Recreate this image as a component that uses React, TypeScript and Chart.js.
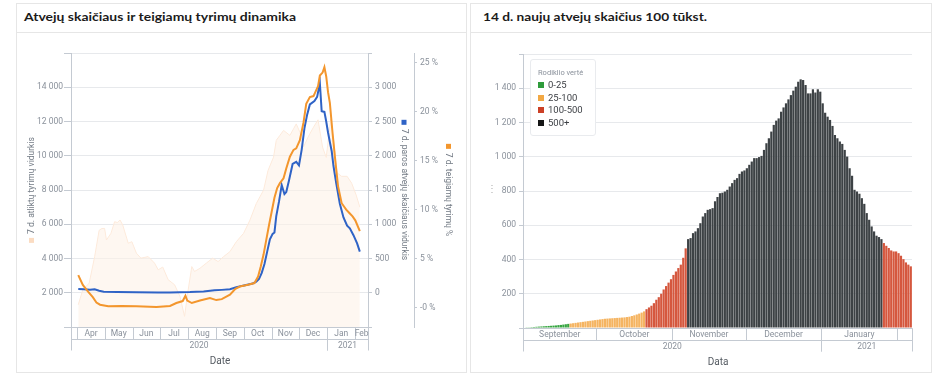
import React, { useEffect, useRef } from 'react';
import { Chart, registerables } from 'chart.js';

Chart.register(...registerables);

const FONT = 'Roboto, "Noto Sans", sans-serif';
const TICK = '#8a919b';
const TITLE_C = '#737b85';
const GRID = '#e7e9ec';
const AXIS = '#c4cad2';
const BLUE = '#2f63c6';
const ORANGE = '#f3962d';
const PEACH_LINE = '#fdeadb';
const PEACH_FILL = 'rgba(254,242,231,0.6)';

// ---------------- Left chart data ----------------
const leftTitle = 'Atvejų skaičiaus ir teigiamų tyrimų dinamika';
const leftRange = ['2020-03-25', '2021-02-15'];

const testDates = ['2020-04-02','2020-04-07','2020-04-14','2020-04-20','2020-04-25','2020-04-28','2020-05-01','2020-05-03','2020-05-08','2020-05-12','2020-05-15','2020-05-18','2020-05-21','2020-05-27','2020-05-31','2020-06-05','2020-06-10','2020-06-18','2020-06-25','2020-06-29','2020-07-04','2020-07-10','2020-07-17','2020-07-23','2020-07-28','2020-08-01','2020-08-05','2020-08-08','2020-08-14','2020-08-21','2020-08-28','2020-09-03','2020-09-09','2020-09-16','2020-09-23','2020-10-01','2020-10-08','2020-10-15','2020-10-23','2020-10-28','2020-11-03','2020-11-06','2020-11-10','2020-11-14','2020-11-21','2020-11-25','2020-11-28','2020-12-02','2020-12-06','2020-12-11','2020-12-17','2020-12-22','2020-12-27','2020-12-31','2021-01-05','2021-01-08','2021-01-12','2021-01-17','2021-01-23','2021-01-28','2021-02-02','2021-02-06'];
const testValues = [1300,2170,2560,4100,5650,5750,5760,5080,5470,6150,6100,6250,5950,4890,4980,4310,4020,4110,3730,3340,3500,2760,2470,1790,620,2170,3530,3240,3430,3730,4020,3820,4110,4400,4980,5470,6240,7210,7990,9150,9920,10900,11190,11480,11190,11570,11860,11380,10510,11090,11670,12100,10500,9900,12150,11000,9000,8800,8800,8400,7700,7000];

const caseDates = ['2020-04-02','2020-04-08','2020-04-15','2020-04-20','2020-04-25','2020-04-30','2020-05-15','2020-06-05','2020-06-29','2020-07-12','2020-08-03','2020-08-18','2020-08-30','2020-09-07','2020-09-16','2020-09-23','2020-09-29','2020-10-05','2020-10-11','2020-10-15','2020-10-18','2020-10-21','2020-10-24','2020-10-27','2020-10-30','2020-11-02','2020-11-04','2020-11-06','2020-11-09','2020-11-12','2020-11-15','2020-11-17','2020-11-20','2020-11-24','2020-11-28','2020-12-01','2020-12-04','2020-12-07','2020-12-10','2020-12-13','2020-12-18','2020-12-21','2020-12-24','2020-12-26','2020-12-29','2020-12-31','2021-01-02','2021-01-04','2021-01-06','2021-01-08','2021-01-11','2021-01-15','2021-01-19','2021-01-23','2021-01-26','2021-01-30','2021-02-03','2021-02-06'];
const caseValues = [55,50,45,52,30,15,10,8,4,5,10,18,35,42,50,80,100,118,135,160,200,290,420,600,780,860,880,1120,1330,1570,1440,1470,1640,1880,1910,1860,2090,2400,2600,2750,2800,2860,3060,2650,2640,2500,2340,2200,2070,1850,1600,1300,1100,980,940,840,720,600];

const posDates = ['2020-04-02','2020-04-07','2020-04-13','2020-04-18','2020-04-22','2020-04-26','2020-05-05','2020-05-20','2020-06-05','2020-06-27','2020-07-12','2020-07-19','2020-07-26','2020-07-29','2020-07-31','2020-08-05','2020-08-14','2020-08-25','2020-09-01','2020-09-07','2020-09-16','2020-09-22','2020-09-27','2020-10-06','2020-10-13','2020-10-17','2020-10-20','2020-10-23','2020-10-26','2020-10-29','2020-11-01','2020-11-04','2020-11-07','2020-11-10','2020-11-14','2020-11-17','2020-11-21','2020-11-25','2020-11-28','2020-12-02','2020-12-06','2020-12-09','2020-12-13','2020-12-17','2020-12-20','2020-12-22','2020-12-24','2020-12-27','2020-12-29','2020-12-31','2021-01-02','2021-01-04','2021-01-07','2021-01-10','2021-01-13','2021-01-17','2021-01-22','2021-01-26','2021-01-29','2021-02-01','2021-02-06'];
const posValues = [3.3,2.3,1.6,1.05,0.5,0.28,0.12,0.15,0.12,0.05,0.15,0.45,0.65,1.2,0.7,0.45,0.7,0.96,0.75,0.85,1.3,1.9,2.14,2.32,2.49,3.16,4.2,5.4,6.9,8.4,9.8,11.2,12.2,12.7,13.2,14.2,15.4,16.1,16.26,17.1,18.9,20.8,21.5,21.6,22.2,22.6,23.7,24.0,24.55,23.6,22.0,20.9,17.8,15.0,12.4,10.65,10.0,9.6,9.3,8.9,7.8];

const testTicks = [0,2000,4000,6000,8000,10000,12000,14000,16000];
const caseTicks = [-500,0,500,1000,1500,2000,2500,3000,3500];
const pctTicks = [0,5,10,15,20,25];

const leftMonthStarts = ['2020-04-01','2020-05-01','2020-06-01','2020-07-01','2020-08-01','2020-09-01','2020-10-01','2020-11-01','2020-12-01','2021-01-01','2021-02-01'];
const leftMonthLabels = ['Apr','May','Jun','Jul','Aug','Sep','Oct','Nov','Dec','Jan','Feb'];
const leftYearStarts = ['2020-03-25','2021-01-01'];
const leftYearLabels = ['2020','2021'];

const testsLabel = '7 d. atliktų tyrimų vidurkis';
const casesLabel = '7 d. paros atvejų skaičiaus vidurkis';
const pctLabel = '7 d. teigiamų tyrimų %';

// ---------------- Right chart data ----------------
const rightTitle = '14 d. naujų atvejų skaičius 100 tūkst.';
const barStart = '2020-09-01';
const barValues = [
  3,4,4,5,6,7,8,9,10,11,12,13,14,15,17,18,20,22,24,
  26,28,30,32,34,36,38,40,42,44,46,48,50,52,54,55,56,57,58,59,60,61,62,64,66,70,74,79,84,90,97,
  110,120,130,145,165,180,200,225,245,265,285,310,330,350,370,410,465,
  519,525,554,564,583,612,651,671,690,694,700,740,765,
  787,790,797,807,826,846,865,875,900,914,920,933,953,972,992,992,998,1005,1040,1079,
  1108,1147,1186,1211,1224,1263,1288,1312,1335,1360,1386,1409,1438,1452,1448,1419,1370,1370,1394,1375,
  1394,1380,1312,1257,1234,1215,1180,1127,1108,1089,1075,1040,1001,933,889,807,797,784,758,725,
  671,632,593,564,539,531,519,
  496,480,467,453,447,447,437,422,402,383,370,360
];
const barTicks = [0,200,400,600,800,1000,1200,1400,1600];
const rightMonthStarts = ['2020-09-01','2020-10-01','2020-11-01','2020-12-01','2021-01-01','2021-02-01'];
const rightMonthLabels = ['September','October','November','December','January',''];
const rightYearStarts = ['2020-09-01','2021-01-01'];
const rightYearLabels = ['2020','2021'];
const legendTitle = 'Rodiklio vertė';
const legendLabels = ['0-25','25-100','100-500','500+'];
const legendSwatches = ['#2e9b3b','#f2a844','#cc4026','#161616'];
const barFills = ['#36a541','#f5b461','#d5573e','#3d4245'];
const barLimits = [25,100,500];

// ---------------- helpers ----------------
const dayNum = (s: string) => Date.UTC(+s.slice(0, 4), +s.slice(5, 7) - 1, +s.slice(8, 10)) / 86400000;
const fmtNum = (v: number) => String(v).replace(/\B(?=(\d{3})+(?!\d))/g, ' ');
const barColor = (v: number) => (v < barLimits[0] ? barFills[0] : v < barLimits[1] ? barFills[1] : v < barLimits[2] ? barFills[2] : barFills[3]);
const barDates = barValues.map((_, i) => new Date((dayNum(barStart) + i) * 86400000).toISOString().slice(0, 10));
const pts = (dates: string[], vals: number[]) => dates.slice(0, vals.length).map((d, i) => ({ x: dayNum(d), y: vals[i] }));

type Seg = { x0: number; x1: number; label: string };

function makeAxisPlugin(id: string, compute: (c: any) => { months: Seg[]; years: Seg[] }, title: string) {
  return {
    id,
    afterDraw(chart: any) {
      const ctx = chart.ctx as CanvasRenderingContext2D;
      const ca = chart.chartArea;
      const { months, years } = compute(chart);
      const y0 = Math.round(ca.bottom) + 0.5;
      const y1 = y0 + 12;
      const y2 = y0 + 23;
      const px = (x: number) => Math.round(x) + 0.5;
      ctx.save();
      ctx.strokeStyle = AXIS;
      ctx.lineWidth = 1;
      const line = (a: number, b: number, c: number, d: number) => {
        ctx.beginPath();
        ctx.moveTo(a, b);
        ctx.lineTo(c, d);
        ctx.stroke();
      };
      const left = px(years[0].x0);
      const right = px(years[years.length - 1].x1);
      line(left, y0, right, y0);
      line(left, y1, right, y1);
      months.forEach((m) => {
        line(px(m.x0), y0, px(m.x0), y1);
        line(px(m.x1), y0, px(m.x1), y1);
      });
      years.forEach((m) => {
        line(px(m.x0), y0, px(m.x0), y2);
        line(px(m.x1), y0, px(m.x1), y2);
      });
      ctx.fillStyle = TICK;
      ctx.font = `8.5px ${FONT}`;
      ctx.textAlign = 'center';
      ctx.textBaseline = 'middle';
      months.forEach((m) => {
        if (m.label) ctx.fillText(m.label, (m.x0 + m.x1) / 2, y0 + 6.5);
      });
      years.forEach((m) => ctx.fillText(m.label, (m.x0 + m.x1) / 2, y0 + 18));
      ctx.fillStyle = '#555b62';
      ctx.font = `10px ${FONT}`;
      ctx.fillText(title, (left + right) / 2, y0 + 34);
      ctx.restore();
    },
  };
}

type TitleItem = { scale: string; dx: number; rot: number; text: string; color: string };
function makeTitlePlugin(items: TitleItem[]) {
  return {
    id: 'axisTitles',
    afterDraw(chart: any) {
      const ctx = chart.ctx as CanvasRenderingContext2D;
      const ca = chart.chartArea;
      const cy = (ca.top + ca.bottom) / 2;
      items.forEach((it) => {
        const s = chart.scales[it.scale];
        ctx.save();
        ctx.translate(s.left + it.dx, cy);
        ctx.rotate(it.rot);
        ctx.font = `8.5px ${FONT}`;
        const tw = ctx.measureText(it.text).width;
        const sq = 5;
        const gap = 4;
        const x = -(sq + gap + tw) / 2;
        ctx.fillStyle = it.color;
        ctx.fillRect(x, -sq / 2, sq, sq);
        ctx.fillStyle = TITLE_C;
        ctx.textAlign = 'left';
        ctx.textBaseline = 'middle';
        ctx.fillText(it.text, x + sq + gap, 0);
        ctx.restore();
      });
    },
  };
}

const tickFont = { size: 8.5, family: FONT };

export default function App() {
  const leftRef = useRef<HTMLCanvasElement>(null);
  const rightRef = useRef<HTMLCanvasElement>(null);

  useEffect(() => {
    Chart.defaults.font.family = FONT;

    const leftAxis = makeAxisPlugin(
      'leftAxis',
      (chart) => {
        const x = chart.scales.x;
        const ca = chart.chartArea;
        const starts = leftMonthStarts.map((d) => x.getPixelForValue(dayNum(d)));
        const months = leftMonthLabels.map((l, i) => ({ x0: starts[i], x1: i + 1 < starts.length ? starts[i + 1] : ca.right, label: l }));
        const ys = leftYearStarts.map((d, i) => (i === 0 ? ca.left : x.getPixelForValue(dayNum(d))));
        const years = leftYearLabels.map((l, i) => ({ x0: ys[i], x1: i + 1 < ys.length ? ys[i + 1] : ca.right, label: l }));
        return { months, years };
      },
      'Date'
    );

    const leftTitles = makeTitlePlugin([
      { scale: 'yTests', dx: 15.5, rot: -Math.PI / 2, text: testsLabel, color: '#fbdcc2' },
      { scale: 'yCases', dx: 36, rot: Math.PI / 2, text: casesLabel, color: BLUE },
      { scale: 'yPct', dx: 34.5, rot: Math.PI / 2, text: pctLabel, color: ORANGE },
    ]);

    const left = new Chart(leftRef.current as HTMLCanvasElement, {
      type: 'line',
      data: {
        datasets: [
          { label: casesLabel, data: pts(caseDates, caseValues), yAxisID: 'yCases', borderColor: BLUE, borderWidth: 2, pointRadius: 0, tension: 0, order: 2 },
          { label: pctLabel, data: pts(posDates, posValues), yAxisID: 'yPct', borderColor: ORANGE, borderWidth: 2, pointRadius: 0, tension: 0, order: 1 },
          { label: testsLabel, data: pts(testDates, testValues), yAxisID: 'yTests', borderColor: PEACH_LINE, backgroundColor: PEACH_FILL, fill: 'origin', borderWidth: 1, pointRadius: 0, tension: 0, order: 3 },
        ],
      } as any,
      options: {
        animation: false,
        responsive: false,
        layout: { padding: { top: 20, bottom: 45, right: 8, left: 0 } },
        plugins: { legend: { display: false }, tooltip: { enabled: false } },
        scales: {
          x: { type: 'linear', min: dayNum(leftRange[0]), max: dayNum(leftRange[1]), display: false },
          yTests: {
            position: 'left', min: 0, max: 16000,
            afterBuildTicks: (s: any) => { s.ticks = testTicks.map((v) => ({ value: v })); },
            afterFit: (s: any) => { s.width = 55; },
            ticks: { callback: (v: any) => (v === 0 || v === 16000 ? '' : fmtNum(v)), color: TICK, font: tickFont, padding: 1 },
            grid: { color: GRID, tickColor: AXIS, tickLength: 7 },
            border: { color: AXIS },
          },
          yCases: {
            position: 'right', weight: 1, min: -500, max: 3500,
            afterBuildTicks: (s: any) => { s.ticks = caseTicks.map((v) => ({ value: v })); },
            afterFit: (s: any) => { s.width = 46; },
            ticks: { callback: (v: any) => (v === -500 || v === 3500 ? '' : fmtNum(v)), color: TICK, font: tickFont, padding: 3 },
            grid: { drawOnChartArea: false, tickColor: AXIS, tickLength: 4 },
            border: { color: AXIS },
          },
          yPct: {
            position: 'right', weight: 2, min: -2, max: 26,
            afterBuildTicks: (s: any) => { s.ticks = pctTicks.map((v) => ({ value: v })); },
            afterFit: (s: any) => { s.width = 44; },
            ticks: { callback: (v: any) => (v === 0 ? '-0 %' : `${v} %`), color: TICK, font: tickFont, padding: 3 },
            grid: { drawOnChartArea: false, tickColor: AXIS, tickLength: 3 },
            border: { color: AXIS },
          },
        },
      } as any,
      plugins: [leftTitles, leftAxis],
    });

    const rightAxis = makeAxisPlugin(
      'rightAxis',
      (chart) => {
        const x = chart.scales.x;
        const w = x.getPixelForValue(1) - x.getPixelForValue(0);
        const edge = (i: number) => x.getPixelForValue(0) - w / 2 + i * w;
        const starts = rightMonthStarts.map((d) => edge(barDates.indexOf(d)));
        const end = edge(barDates.length);
        const months = rightMonthLabels.map((l, i) => ({ x0: starts[i], x1: i + 1 < starts.length ? starts[i + 1] : end, label: l }));
        const ys = rightYearStarts.map((d) => edge(barDates.indexOf(d)));
        const years = rightYearLabels.map((l, i) => ({ x0: ys[i], x1: i + 1 < ys.length ? ys[i + 1] : end, label: l }));
        return { months, years };
      },
      'Data'
    );

    const right = new Chart(rightRef.current as HTMLCanvasElement, {
      type: 'bar',
      data: {
        labels: barDates,
        datasets: [
          { label: rightTitle, data: barValues, backgroundColor: barValues.map(barColor), barPercentage: 0.9, categoryPercentage: 1, borderWidth: 0 },
        ],
      },
      options: {
        animation: false,
        responsive: false,
        layout: { padding: { top: 21, bottom: 44, right: 20, left: 0 } },
        plugins: { legend: { display: false }, tooltip: { enabled: false } },
        scales: {
          x: { display: false },
          y: {
            min: 0, max: 1600,
            afterBuildTicks: (s: any) => { s.ticks = barTicks.map((v) => ({ value: v })); },
            afterFit: (s: any) => { s.width = 53; },
            ticks: { callback: (v: any) => (v === 0 || v === 1600 ? '' : fmtNum(v)), color: TICK, font: tickFont, padding: 3 },
            grid: { color: GRID, tickColor: AXIS, tickLength: 4 },
            border: { color: AXIS },
          },
        },
      } as any,
      plugins: [rightAxis],
    });

    return () => {
      left.destroy();
      right.destroy();
    };
  }, []);

  return (
    <div style={{ position: 'absolute', left: 0, top: 0, width: 945, height: 381, background: '#fff', overflow: 'hidden', fontFamily: FONT }}>
      <div style={{ position: 'absolute', left: 16, top: 3, width: 451, height: 370, border: '1px solid #e6e6e6', boxSizing: 'border-box' }} />
      <div style={{ position: 'absolute', left: 470, top: 3, width: 462, height: 370, border: '1px solid #e6e6e6', boxSizing: 'border-box' }} />
      <div style={{ position: 'absolute', left: 16, top: 32, width: 451, height: 1, background: '#e6e6e6' }} />
      <div style={{ position: 'absolute', left: 470, top: 32, width: 462, height: 1, background: '#e6e6e6' }} />
      <svg style={{ position: 'absolute', left: 0, top: 0, pointerEvents: 'none' }} width={945} height={32}>
        <text x={24} y={21} fontFamily="Lato, 'Open Sans', sans-serif" fontWeight="bold" fontSize={11.5} textLength={272} lengthAdjust="spacingAndGlyphs" fill="#1b1b1b">{leftTitle}</text>
        <text x={483} y={21} fontFamily="Lato, 'Open Sans', sans-serif" fontWeight="bold" fontSize={11.5} textLength={224} lengthAdjust="spacingAndGlyphs" fill="#1b1b1b">{rightTitle}</text>
      </svg>
      <canvas ref={leftRef} width={450} height={339} style={{ position: 'absolute', left: 16, top: 33, width: 450, height: 339 }} />
      <canvas ref={rightRef} width={462} height={339} style={{ position: 'absolute', left: 470, top: 33, width: 462, height: 339 }} />
      <div style={{ position: 'absolute', left: 487, top: 182, fontSize: 10, color: '#b0b0b0', lineHeight: '14px' }}>⋮</div>
      <div style={{ position: 'absolute', left: 530, top: 59, width: 66, height: 77, border: '1px solid #e9ebee', borderRadius: 3, background: '#fff', boxSizing: 'border-box' }}>
        <div style={{ position: 'absolute', left: 7, top: 8, fontSize: 7.5, color: TICK, whiteSpace: 'nowrap', lineHeight: '9px' }}>{legendTitle}</div>
        {legendLabels.map((l, i) => (
          <div key={l} style={{ position: 'absolute', left: 7, top: 19 + i * 12.7, height: 12, display: 'flex', alignItems: 'center', whiteSpace: 'nowrap' }}>
            <span style={{ display: 'inline-block', width: 6, height: 6, background: legendSwatches[i], marginRight: 4 }} />
            <span style={{ fontSize: 9.5, color: '#3c3f44', lineHeight: '12px' }}>{l}</span>
          </div>
        ))}
      </div>
    </div>
  );
}
